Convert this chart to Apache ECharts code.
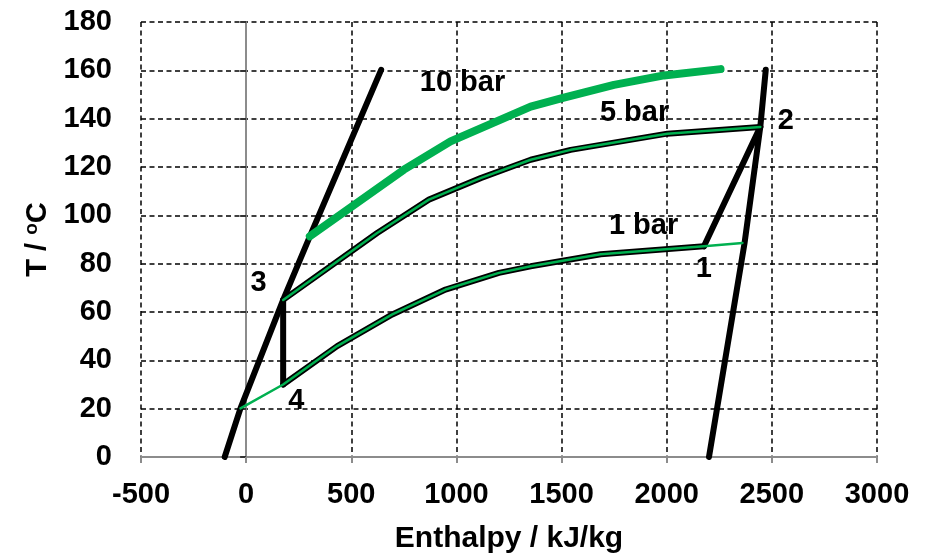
<!DOCTYPE html>
<html>
<head>
<meta charset="utf-8">
<script src="https://cdn.jsdelivr.net/npm/echarts@6/dist/echarts.min.js"></script>
<style>html,body{margin:0;padding:0;background:#fff}#c{width:927px;height:559px}</style>
</head>
<body>
<div id="c"></div>
<script>
// ---- data (enthalpy kJ/kg, temperature °C) ----
const xTicks = [-500, 0, 500, 1000, 1500, 2000, 2500, 3000];
const yTicks = [0, 20, 40, 60, 80, 100, 120, 140, 160, 180];
const satLiquid = [[-102, 0], [-27, 20.1], [176, 65.0], [303, 91.3], [642, 160.2]];
const satVapour = [[2201, 0], [2370, 88.4], [2445, 136.6], [2471, 160.2]];
const bar1 = [[-27, 20.1], [176, 30.0], [433, 45.9], [695, 59.0], [948, 69.3], [1202, 76.2], [1353, 78.9], [1686, 83.9], [2177, 87.2], [2360, 88.6]];
const bar5 = [[176, 65.0], [623, 92.7], [869, 106.5], [1115, 115.4], [1353, 123.0], [1543, 127.1], [2003, 133.8], [2445, 136.6]];
const bar10 = [[303, 91.3], [750, 118.9], [972, 130.6], [1353, 145.0], [1511, 148.7], [1749, 154.0], [1987, 157.9], [2256, 160.5]];
const compression = [[2177, 87.2], [2445, 136.6]];   // 1 -> 2
const expansion = [[176, 65.0], [176, 30.0]];         // 3 -> 4
const evaporation = bar1.slice(1, 9);                 // 4 -> 1
const labelNames = ['10 bar', '5 bar', '1 bar', '1', '2', '3', '4'];
const labelPos = [[1029, 154.8], [1847, 142.4], [1890, 95.7], [2176, 78.0], [2566, 139.1], [59, 72.2], [239, 23.0]];

const GREEN = '#00B050';
const FONT = '"Liberation Sans", Arial, sans-serif';

const chart = echarts.init(document.getElementById('c'), null, {renderer: 'canvas'});

function line(data, color, width, z) {
  return {type: 'line', data: data, showSymbol: false, symbol: 'none', smooth: false,
    lineStyle: {color: color, width: width, cap: 'round', join: 'round'}, z: z, silent: true, animation: false};
}

chart.setOption({
  animation: false,
  grid: {left: 141, right: 50, top: 22, bottom: 101, containLabel: false},
  xAxis: {
    type: 'value', min: xTicks[0], max: xTicks[xTicks.length - 1], interval: 500,
    name: 'Enthalpy / kJ/kg', nameLocation: 'middle', nameGap: 67,
    nameTextStyle: {fontFamily: FONT, fontWeight: 'bold', fontSize: 30, color: '#000'},
    axisLine: {lineStyle: {color: '#8c8c8c', width: 2}},
    axisTick: {show: true, length: 6, lineStyle: {color: '#8c8c8c', width: 2}},
    axisLabel: {fontFamily: FONT, fontWeight: 'bold', fontSize: 29, color: '#000', margin: 23,
      formatter: v => String(v)},
    splitLine: {show: true, lineStyle: {color: '#000', type: [5, 3.5], width: 1.5}}
  },
  yAxis: {
    type: 'value', min: yTicks[0], max: yTicks[yTicks.length - 1], interval: 20,
    name: '{a|T / }{s|o}{a|C}', nameLocation: 'middle', nameGap: 86,
    nameTextStyle: {fontFamily: FONT, fontWeight: 'bold', fontSize: 29, color: '#000',
      rich: {a: {fontFamily: FONT, fontWeight: 'bold', fontSize: 29, color: '#000'},
             s: {fontFamily: FONT, fontWeight: 'bold', fontSize: 19, color: '#000', padding: [0, 0, 12, 0]}}},
    axisLine: {show: true, lineStyle: {color: '#8c8c8c', width: 2}},
    axisTick: {show: true, length: 6, lineStyle: {color: '#333', width: 2}},
    axisLabel: {fontFamily: FONT, fontWeight: 'bold', fontSize: 29, color: '#000', margin: 29},
    splitLine: {show: true, lineStyle: {color: '#000', type: [5, 3.5], width: 1.5}}
  },
  series: [
    line(satLiquid, '#000', 6, 2),
    line(satVapour, '#000', 6, 2),
    line(compression, '#000', 6, 2),
    line(expansion, '#000', 6, 2),
    line(evaporation, '#000', 6, 3),
    line(bar5, '#000', 6, 3),
    line(bar10, GREEN, 8, 4),
    line(bar1, GREEN, 2.5, 5),
    line(bar5, GREEN, 2.5, 5),
    {
      type: 'scatter', symbolSize: 1, z: 6, silent: true, animation: false,
      itemStyle: {color: 'rgba(0,0,0,0)', opacity: 1},
      data: labelNames.map((n, i) => ({name: n, value: labelPos[i]})),
      label: {show: true, position: 'inside', formatter: p => p.name, opacity: 1,
        fontFamily: FONT, fontWeight: 'bold', fontSize: 29, color: '#000'}
    }
  ]
});
</script>
</body>
</html>
